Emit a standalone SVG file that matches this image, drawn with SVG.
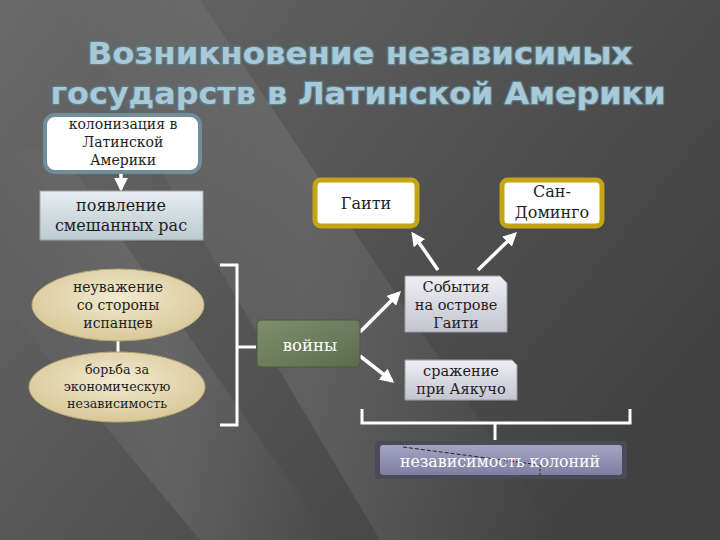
<svg xmlns="http://www.w3.org/2000/svg" width="720" height="540" viewBox="0 0 720 540">
<defs>
<linearGradient id="bg" x1="0" y1="0" x2="1" y2="0.6">
<stop offset="0" stop-color="#6a6a6a"/>
<stop offset="0.45" stop-color="#575757"/>
<stop offset="1" stop-color="#414141"/>
</linearGradient>
<linearGradient id="streak" x1="0" y1="0" x2="1" y2="0">
<stop offset="0" stop-color="#ffffff" stop-opacity="0"/>
<stop offset="0.5" stop-color="#ffffff" stop-opacity="0.09"/>
<stop offset="1" stop-color="#ffffff" stop-opacity="0"/>
</linearGradient>
<linearGradient id="g2" x1="0" y1="0" x2="0" y2="1">
<stop offset="0" stop-color="#e6edf0"/>
<stop offset="1" stop-color="#bccad0"/>
</linearGradient>
<radialGradient id="ell" cx="0.5" cy="0.4" r="0.6">
<stop offset="0" stop-color="#f2ead0"/>
<stop offset="1" stop-color="#d8c898"/>
</radialGradient>
<linearGradient id="green" x1="0" y1="0" x2="1" y2="1">
<stop offset="0" stop-color="#7f8f6e"/>
<stop offset="1" stop-color="#5c6b4c"/>
</linearGradient>
<linearGradient id="lav" x1="0" y1="0" x2="0" y2="1">
<stop offset="0" stop-color="#eeeef4"/>
<stop offset="1" stop-color="#c4c4d0"/>
</linearGradient>
<linearGradient id="res" x1="0" y1="0" x2="0" y2="1">
<stop offset="0" stop-color="#a4a4c2"/>
<stop offset="1" stop-color="#7e7ea0"/>
</linearGradient>
<marker id="ah" viewBox="0 0 10 10" refX="8" refY="5" markerWidth="4" markerHeight="4" orient="auto-start-reverse">
<path d="M0,0 L10,5 L0,10 z" fill="#ffffff"/>
</marker>
</defs>
<style>
.t{fill:#1e1e1e;text-anchor:middle}
.title{fill:#a8c9d7;stroke:#5d7c8a;stroke-width:2.4;paint-order:stroke;stroke-linejoin:round;text-anchor:middle}
.ln{stroke:#ffffff;stroke-width:3;fill:none}
.ar{stroke:#ffffff;stroke-width:3.5;fill:none;marker-end:url(#ah)}
</style>
<rect width="720" height="540" fill="url(#bg)"/>
<polygon points="60,0 200,0 560,540 380,540" fill="url(#streak)"/>
<polygon points="0,150 60,150 330,540 200,540 0,300" fill="url(#streak)"/>
<g id="title" font-family="'DejaVu Sans', 'Liberation Sans', sans-serif" font-weight="bold" font-size="31">
<text class="title" x="360" y="64" textLength="545" lengthAdjust="spacingAndGlyphs">Возникновение независимых</text>
<text class="title" x="358" y="104" textLength="615" lengthAdjust="spacingAndGlyphs">государств в Латинской Америки</text>
</g>
<g id="connectors">
<line class="ar" x1="121" y1="172" x2="121" y2="189"/>
<line class="ln" x1="118" y1="340" x2="118" y2="354"/>
<path class="ln" d="M220,265 H237 V425 H220"/>
<line class="ln" x1="237" y1="347" x2="256" y2="347"/>
<line class="ar" x1="360" y1="332" x2="399" y2="293"/>
<line class="ar" x1="360" y1="356" x2="392" y2="381"/>
<line class="ar" x1="438" y1="270" x2="413" y2="234"/>
<line class="ar" x1="478" y1="270" x2="515" y2="234"/>
<path class="ln" d="M362,409 V423 H630 V409"/>
<line class="ln" x1="495" y1="423" x2="495" y2="440"/>
</g>
<g font-family="'DejaVu Serif', 'Liberation Serif', serif">
<g id="n1">
<rect x="45" y="115" width="155" height="57" rx="10" fill="#ffffff" stroke="#6f8e9c" stroke-width="4"/>
<text class="t" font-size="14" x="123" y="129">колонизация в</text>
<text class="t" font-size="14" x="123" y="147">Латинской</text>
<text class="t" font-size="14" x="123" y="165">Америки</text>
</g>
<g id="n2">
<rect x="40" y="191" width="163" height="49" fill="url(#g2)" stroke="#9aaab0" stroke-width="1"/>
<text class="t" font-size="16" x="121" y="211">появление</text>
<text class="t" font-size="16" x="121" y="231">смешанных рас</text>
</g>
<g id="n3">
<ellipse cx="118" cy="305" rx="86" ry="36" fill="url(#ell)" stroke="#b8a878" stroke-width="1"/>
<text class="t" font-size="14" x="118" y="292">неуважение</text>
<text class="t" font-size="14" x="118" y="310">со стороны</text>
<text class="t" font-size="14" x="118" y="328">испанцев</text>
</g>
<g id="n4">
<ellipse cx="117" cy="387" rx="88" ry="35" fill="url(#ell)" stroke="#b8a878" stroke-width="1"/>
<text class="t" font-size="12.7" x="117" y="374">борьба за</text>
<text class="t" font-size="12.7" x="117" y="391">экономическую</text>
<text class="t" font-size="12.7" x="117" y="408">независимость</text>
</g>
<g id="n5">
<rect x="257" y="320" width="103" height="47" rx="4" fill="url(#green)" stroke="#4d5a40" stroke-width="1"/>
<text class="t" font-size="16.5" x="310" y="351" style="fill:#ffffff">войны</text>
</g>
<g id="n6">
<path d="M405,276 H500 L507,283 V332 H405 Z" fill="url(#lav)" stroke="#9a9aa8" stroke-width="1"/>
<text class="t" font-size="14.5" x="456" y="292">События</text>
<text class="t" font-size="14.5" x="456" y="310">на острове</text>
<text class="t" font-size="14.5" x="456" y="328">Гаити</text>
</g>
<g id="n7">
<rect x="315" y="180" width="102" height="46" rx="6" fill="#ffffff" stroke="#c4a514" stroke-width="5"/>
<text class="t" font-size="16" x="366" y="209">Гаити</text>
</g>
<g id="n8">
<rect x="502" y="180" width="100" height="46" rx="6" fill="#ffffff" stroke="#c4a514" stroke-width="5"/>
<text class="t" font-size="16" x="552" y="197">Сан-</text>
<text class="t" font-size="16" x="552" y="218">Доминго</text>
</g>
<g id="n9">
<path d="M405,360 H512 L517,365 V400 H405 Z" fill="url(#lav)" stroke="#9a9aa8" stroke-width="1"/>
<text class="t" font-size="14.5" x="461" y="376">сражение</text>
<text class="t" font-size="14.5" x="461" y="394">при Аякучо</text>
</g>
<g id="n10">
<rect x="375" y="441" width="252" height="38" rx="4" fill="#4a4a58"/>
<rect x="380" y="445" width="242" height="30" rx="3" fill="url(#res)"/>
<line x1="403" y1="447" x2="540" y2="465" stroke="#222233" stroke-width="1" stroke-dasharray="4,2"/>
<line x1="540" y1="465" x2="540" y2="476" stroke="#222233" stroke-width="1" stroke-dasharray="2,2"/>
<text class="t" font-size="15.8" x="500" y="467" style="fill:#ffffff">независимость колоний</text>
</g>
</g>
</svg>
